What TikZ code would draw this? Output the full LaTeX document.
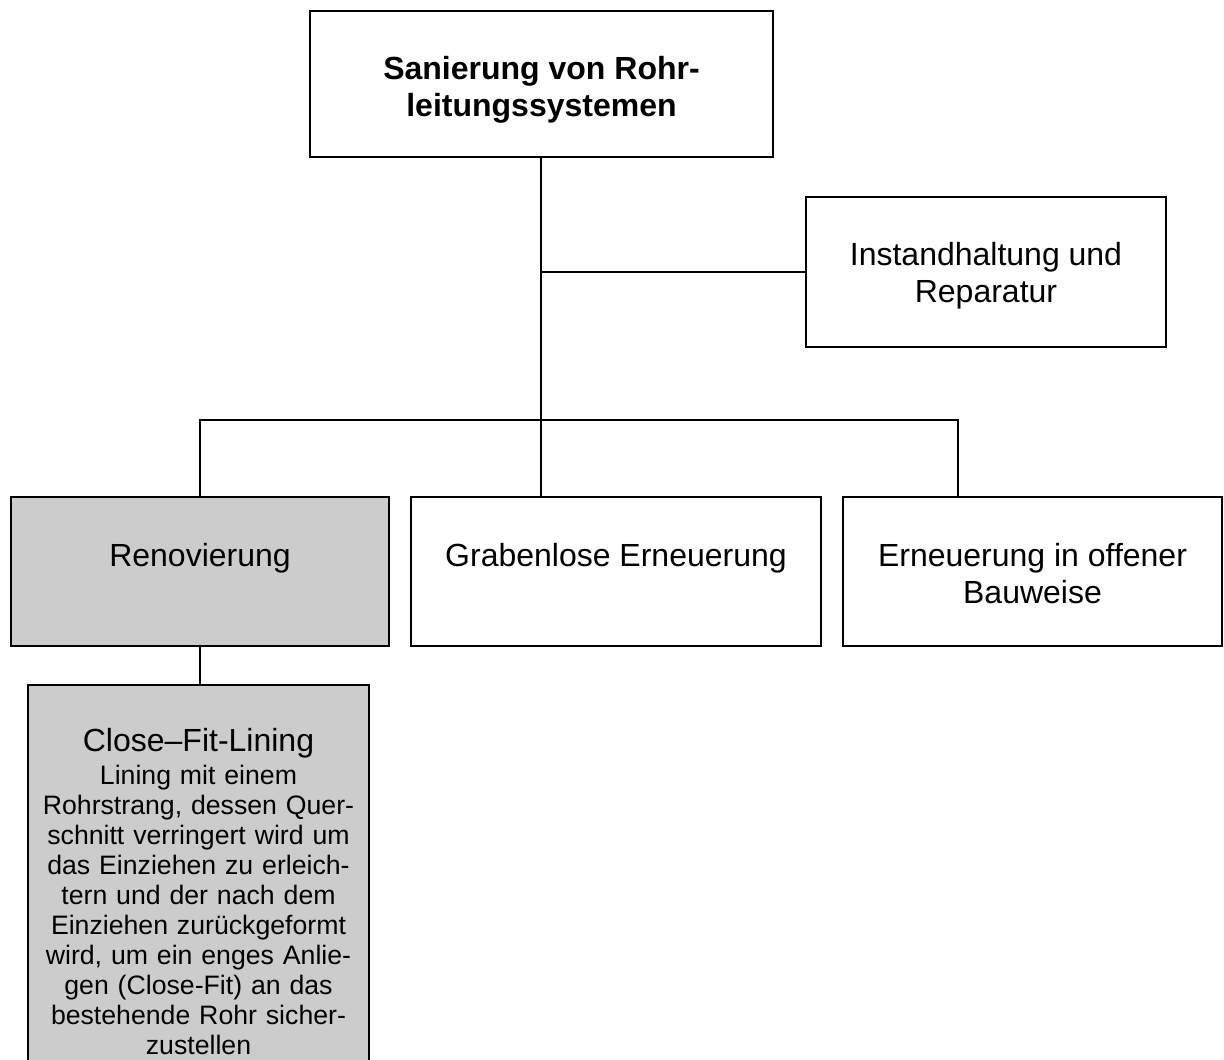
\documentclass[tikz,border=0pt]{standalone}
\usepackage{fontspec}
\setmainfont{Liberation Sans}
\definecolor{fillgray}{RGB}{204,204,204}

\begin{document}
\begin{tikzpicture}[x=0.375pt, y=-0.375pt, line width=0.9pt,
  box/.style={draw, align=center, inner sep=0pt, font=\fontsize{12}{13.9}\selectfont},
  rowbox/.style={box, minimum height=55.9pt},
  oneline/.style={text height=12pt, text depth=15.4pt},
  shaded/.style={fill=fillgray}]
  \useasboundingbox (0,0) rectangle (1224,1060);
  \node[box, font=\fontsize{12}{13.9}\selectfont\bfseries, minimum width=173.6pt, minimum height=54.75pt] (root) at (541.5,84) {\rule{0pt}{13.3pt}Sanierung von Rohr-\\leitungssystemen};
  \node[box, minimum width=135pt, minimum height=56.25pt] (inst) at (986,272) {\rule{0pt}{11.8pt}Instandhaltung und\\Reparatur};
  \node[rowbox, oneline, shaded, minimum width=141.75pt] (reno) at (200,571.5) {Renovierung};
  \node[rowbox, oneline, minimum width=153.75pt] (trench) at (616,571.5) {Grabenlose Erneuerung};
  \node[rowbox, minimum width=142.1pt] (open) at (1032.5,571.5) {\rule{0pt}{10.3pt}Erneuerung in offener\\Bauweise};
  \node[box, shaded, anchor=north, text width=127.9pt, inner ysep=16pt, font=\fontsize{10}{11.25}\selectfont] (cfl) at (198.5,684)
    {{\fontsize{12}{13.9}\selectfont Close--Fit-Lining}\\[1.2pt]
     Lining mit einem\\
     Rohrstrang, dessen Quer-\\
     schnitt verringert wird um\\
     das Einziehen zu erleich-\\
     tern und der nach dem\\
     Einziehen zurückgeformt\\
     wird, um ein enges Anlie-\\
     gen (Close-Fit) an das\\
     bestehende Rohr sicher-\\
     zustellen};
  \coordinate (hub) at (541,420);
  \coordinate (rightdrop) at (958,420);
  \draw (hub |- root.south) -- (hub);
  \draw (hub |- inst.west) -- (inst.west);
  \draw (reno.north) |- (rightdrop) -- (rightdrop |- open.north);
  \draw (hub) -- (hub |- trench.north);
  \draw (reno.south) -- (reno.south |- cfl.north);
\end{tikzpicture}
\end{document}
